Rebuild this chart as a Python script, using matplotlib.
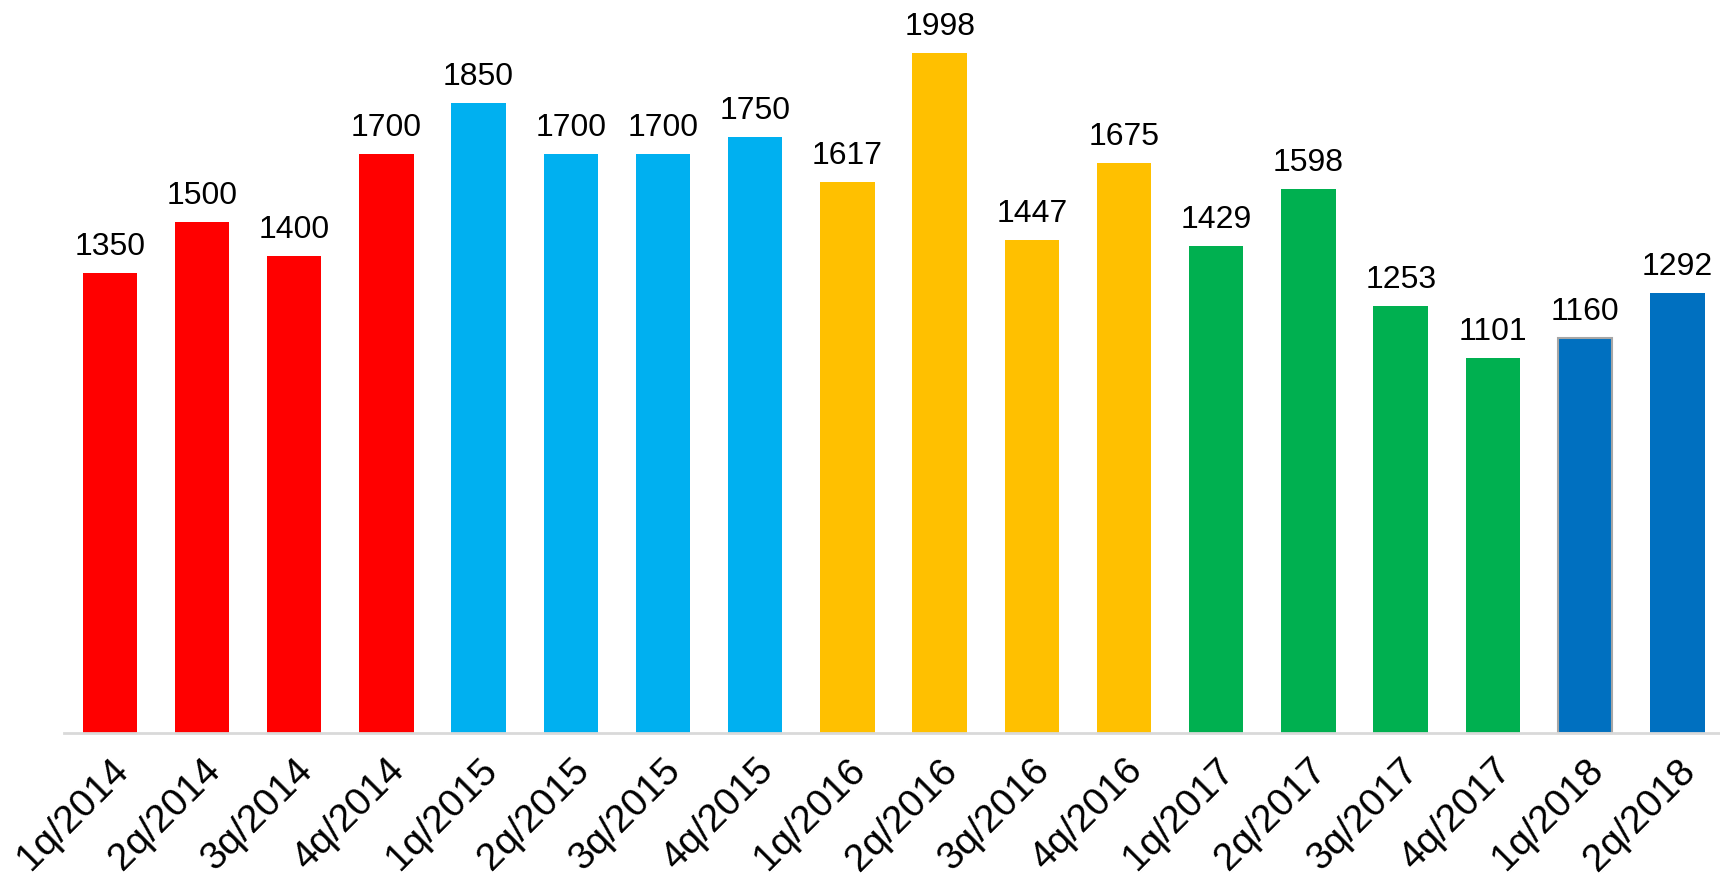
import matplotlib
matplotlib.use("Agg")
import matplotlib.pyplot as plt
from matplotlib.transforms import ScaledTranslation

categories = ["1q/2014", "2q/2014", "3q/2014", "4q/2014",
              "1q/2015", "2q/2015", "3q/2015", "4q/2015",
              "1q/2016", "2q/2016", "3q/2016", "4q/2016",
              "1q/2017", "2q/2017", "3q/2017", "4q/2017",
              "1q/2018", "2q/2018"]
values = [1350, 1500, 1400, 1700,
          1850, 1700, 1700, 1750,
          1617, 1998, 1447, 1675,
          1429, 1598, 1253, 1101,
          1160, 1292]
year_colors = {"2014": "#FF0000", "2015": "#00B0F0", "2016": "#FFC000",
               "2017": "#00B050", "2018": "#0070C0"}

plt.rcParams['font.family'] = ['Liberation Sans', 'DejaVu Sans']

fig = plt.figure(figsize=(17.2, 8.75), dpi=100)
ax = fig.add_axes([0.037, 0.1623, 0.965, 0.8377])

colors = [year_colors[c.split("/")[1]] for c in categories]
x = list(range(len(categories)))
bars = ax.bar(x, values, width=0.59, color=colors, zorder=2)
# the 1q/2018 bar has a thin grey outline in the reference
bars[16].set_edgecolor("#A6A6A6")
bars[16].set_linewidth(1.5)

for xi, v in zip(x, values):
    ax.annotate(f"{v}", (xi, v), xytext=(0, 8), textcoords="offset points",
                ha="center", va="bottom", fontsize=23, color="#000000")

ax.set_xlim(-0.5, len(categories) - 0.5)
ax.set_ylim(0, 2153)
ax.set_xticks(x)
ax.set_xticklabels(categories, rotation=45, ha="right", rotation_mode="anchor",
                   fontsize=28)
offset = ScaledTranslation(-5 / 100, 0, fig.dpi_scale_trans)
for lbl in ax.get_xticklabels():
    lbl.set_transform(lbl.get_transform() + offset)
ax.tick_params(axis="x", length=0, pad=14)
ax.set_yticks([])
for s in ["top", "right", "left"]:
    ax.spines[s].set_visible(False)
ax.spines["bottom"].set_color("#D9D9D9")
ax.spines["bottom"].set_linewidth(2)

fig.savefig("out.png", dpi=100)
